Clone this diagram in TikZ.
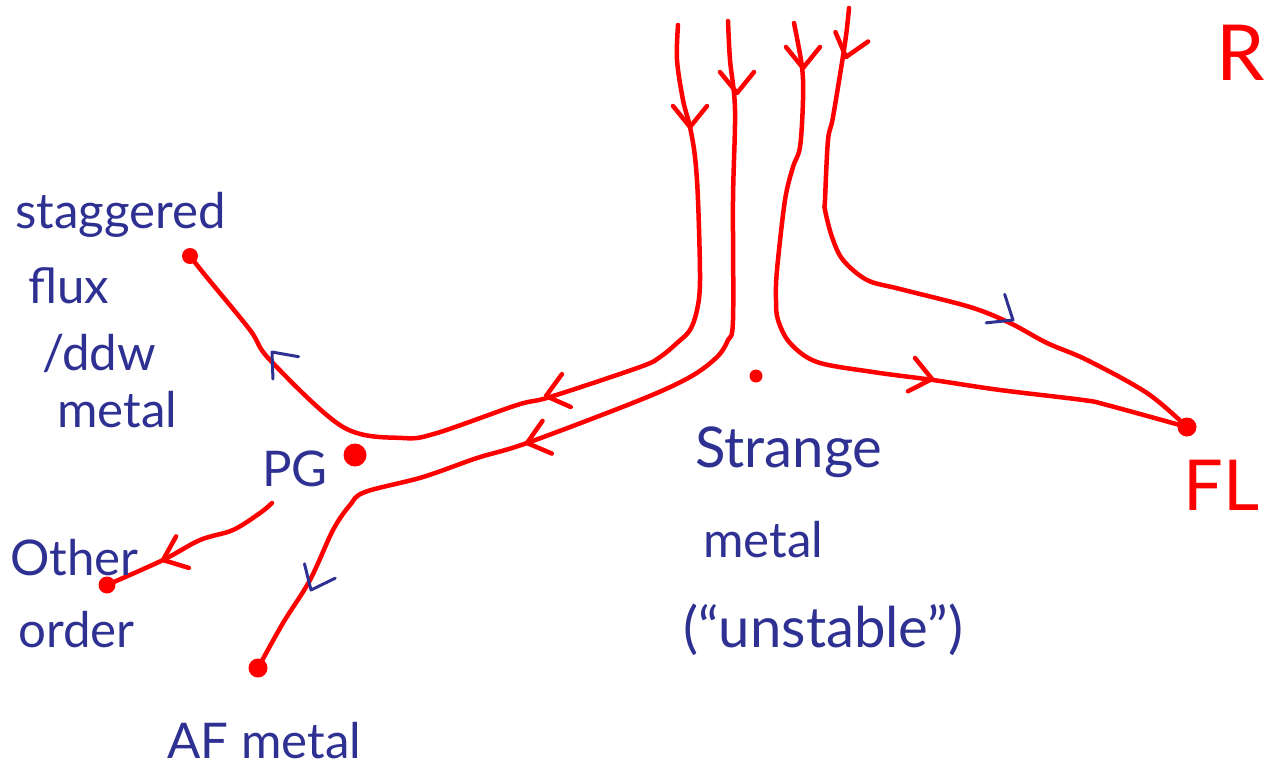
\documentclass[tikz,border=0pt]{standalone}
\usepackage{fontspec}
\setmainfont{Lato}
\definecolor{penblue}{RGB}{46,49,146}
\tikzset{
  flow/.style={red, line width=0.09cm, line cap=round, line join=round},
  blob/.style={circle, fill=red, inner sep=0pt, minimum size=#1},
  blob/.default=0.32cm,
  vtip/.pic={\draw[line cap=round, line join=round] (-21,17) -- (0,0) -- (-21,-17);},
  lbl/.style={text=penblue, anchor=base west, inner sep=0pt, font=\fontsize{28}{32}\selectfont},
}
\begin{document}
\begin{tikzpicture}[x=0.02cm, y=-0.02cm]
\useasboundingbox (0,0) rectangle (1270,769);
\node[blob] (SFdot) at (190,256) {};
\node[blob=0.46cm] (PGdot) at (355,455) {};
\node[blob=0.26cm] (SMdot) at (756,376) {};
\node[blob=0.38cm] (FLdot) at (1187,427) {};
\node[blob=0.38cm] (AFdot) at (258,668) {};
\node[blob=0.34cm] (OOdot) at (107,585) {};
\coordinate (tA) at (678,25);
\coordinate (tB) at (728,21);
\coordinate (tC) at (794,23);
\coordinate (tD) at (849,8);
\coordinate (PGout) at (272,503);
\draw[flow] plot[smooth, tension=0.55] coordinates {(tA) (677,60) (683,100) (690,127) (695,157) (698,200) (700,280) (697,310) (690,330) (677,343) (660,357) (640,367) (550,397) (517,405) (437,433) (403,438) (343,427) (270,360) (250,330) (205,275) (SFdot)};
\draw[flow] plot[smooth, tension=0.55] coordinates {(tB) (730,60) (735,110) (733,200) (733,320) (728,340) (717,357) (690,377) (640,400) (527,443) (477,458) (423,477) (365,492) (350,505) (333,530) (310,580) (283,623) (AFdot)};
\draw[flow] plot[smooth, tension=0.55] coordinates {(tC) (802,67) (803,100) (800,147) (793,167) (785,200) (777,270) (776,300) (778,320) (790,343) (817,362) (873,372) (933,380) (1000,390) (1083,400) (1107,405) (FLdot)};
\draw[flow] plot[smooth, tension=0.55] coordinates {(tD) (845,43) (833,117) (828,140) (825,200) (825,210) (832,237) (843,260) (867,280) (900,289) (970,307) (1010,323) (1047,343) (1087,360) (1147,393) (FLdot)};
\draw[flow] plot[smooth, tension=0.55] coordinates {(PGout) (260,513) (233,530) (200,540) (163,560) (OOdot)};
\pic[flow, rotate=-90] at (690,127) {vtip};
\pic[flow, rotate=-90] at (737,93) {vtip};
\pic[flow, rotate=-90] at (803,68) {vtip};
\pic[flow, rotate=-106] at (846,57) {vtip};
\pic[flow, rotate=195] at (546,396) {vtip};
\pic[flow, rotate=196] at (527,443) {vtip};
\pic[flow, rotate=-12] at (932,379) {vtip};
\pic[flow, rotate=202] at (163,560) {vtip};
\pic[penblue, line width=0.06cm, rotate=-33] at (1013,320) {vtip};
\pic[penblue, line width=0.06cm, rotate=131] at (272,352) {vtip};
\pic[penblue, line width=0.06cm, rotate=-115] at (311,590) {vtip};
\node[lbl] (SF1) at (15,228) {staggered};
\node[lbl] (SF2) at (28,303) {flux};
\node[lbl] (SF3) at (42,370) {/ddw};
\node[lbl] (SF4) at (57,427) {metal};
\node[lbl] (PG) at (262,486) {PG};
\node[lbl] (OO1) at (10,575) {Other};
\node[lbl] (OO2) at (18,647) {order};
\node[lbl] (AF) at (167,758) {AF metal};
\node[lbl, font=\fontsize{32}{36}\selectfont] (SM1) at (695,467) {Strange};
\node[lbl] (SM2) at (703,557) {metal};
\node[lbl, font=\fontsize{32}{36}\selectfont] (SM3) at (683,647) {(``unstable'')};
\node[lbl, text=red, font=\fontsize{40}{44}\selectfont] (FL) at (1183,510) {FL};
\node[lbl, text=red, font=\fontsize{44}{48}\selectfont] (RG) at (1216,80) {R};
\end{tikzpicture}
\end{document}
